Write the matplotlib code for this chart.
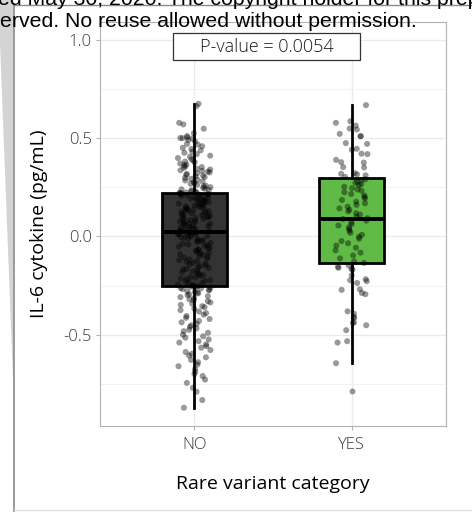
import matplotlib
matplotlib.use("Agg")
import matplotlib.pyplot as plt
from matplotlib.patches import Rectangle, Polygon
from matplotlib.lines import Line2D
import numpy as np

# ---------------- data ----------------
categories = ["NO", "YES"]
box_colors = ["#333333", "#5fbb46"]

# box statistics
q1 = [-0.254, -0.135]
median = [0.020, 0.086]
q3 = [0.218, 0.298]
whisker_low = [-0.871, -0.645]
whisker_high = [0.674, 0.667]
outliers_no = []
outliers_yes = [-0.787]

il6_no = [
    -0.871, -0.832, -0.79, -0.77, -0.745, -0.728, -0.71, -0.70, -0.688, -0.675,
    -0.66, -0.652, -0.64, -0.628, -0.615, -0.606, -0.597, -0.588, -0.578, -0.566,
    -0.558, -0.549, -0.54, -0.533, -0.524, -0.515, -0.508, -0.50, -0.49, -0.482,
    -0.475, -0.468, -0.46, -0.452, -0.445, -0.437, -0.43, -0.42, -0.414, -0.405,
    -0.398, -0.39, -0.382, -0.375, -0.368, -0.36, -0.355, -0.348, -0.342, -0.336,
    -0.33, -0.325, -0.32, -0.314, -0.309, -0.304, -0.299, -0.294, -0.29, -0.286,
    -0.282, -0.278, -0.274, -0.271, -0.268, -0.265, -0.262, -0.26, -0.258, -0.256,
    -0.254, -0.251, -0.247, -0.245, -0.238, -0.236, -0.231, -0.226, -0.223, -0.219,
    -0.214, -0.21, -0.207, -0.2, -0.197, -0.193, -0.186, -0.182, -0.179, -0.174,
    -0.168, -0.165, -0.161, -0.157, -0.151, -0.148, -0.142, -0.139, -0.135, -0.129,
    -0.125, -0.121, -0.117, -0.112, -0.108, -0.103, -0.099, -0.094, -0.091, -0.086,
    -0.082, -0.077, -0.073, -0.069, -0.066, -0.061, -0.057, -0.052, -0.049, -0.044,
    -0.041, -0.037, -0.033, -0.029, -0.025, -0.021, -0.018, -0.014, -0.011, -0.007,
    -0.004, -0.001, 0.002, 0.005, 0.008, 0.01, 0.012, 0.014, 0.016, 0.018,
    0.02, 0.022, 0.025, 0.027, 0.031, 0.034, 0.036, 0.039, 0.043, 0.046,
    0.048, 0.052, 0.055, 0.058, 0.061, 0.064, 0.066, 0.07, 0.073, 0.075,
    0.079, 0.082, 0.085, 0.088, 0.09, 0.094, 0.097, 0.099, 0.103, 0.106,
    0.108, 0.111, 0.114, 0.117, 0.12, 0.123, 0.126, 0.128, 0.131, 0.134,
    0.137, 0.14, 0.143, 0.146, 0.149, 0.152, 0.154, 0.157, 0.16, 0.163,
    0.166, 0.169, 0.172, 0.174, 0.177, 0.18, 0.183, 0.186, 0.189, 0.192,
    0.195, 0.198, 0.2, 0.203, 0.206, 0.209, 0.211, 0.213, 0.215, 0.217,
    0.218, 0.219, 0.221, 0.223, 0.225, 0.227, 0.23, 0.233, 0.236, 0.239,
    0.242, 0.246, 0.25, 0.254, 0.258, 0.262, 0.267, 0.271, 0.275, 0.279,
    0.284, 0.288, 0.292, 0.297, 0.301, 0.305, 0.309, 0.313, 0.317, 0.321,
    0.325, 0.329, 0.333, 0.336, 0.34, 0.344, 0.348, 0.352, 0.356, 0.361,
    0.365, 0.37, 0.376, 0.38, 0.385, 0.392, 0.398, 0.405, 0.41, 0.418,
    0.425, 0.43, 0.437, 0.444, 0.45, 0.458, 0.466, 0.47, 0.482, 0.49,
    0.497, 0.499, 0.5, 0.503, 0.51, 0.524, 0.547, 0.569, 0.577, 0.662,
    0.674,
]

# YES values inside the whiskers (the single outlier is drawn by the box plot)
il6_yes = [
    -0.645, -0.54, -0.533, -0.477, -0.452, -0.44, -0.438, -0.415, -0.41,
    -0.393, -0.381, -0.294, -0.288, -0.272, -0.269, -0.237, -0.228, -0.223, -0.218,
    -0.198, -0.17, -0.165, -0.16, -0.155, -0.148, -0.135,
    -0.128, -0.112, -0.097, -0.083, -0.071, -0.058, -0.047, -0.035, -0.024, -0.012,
    -0.002, 0.008, 0.018, 0.028, 0.037, 0.046, 0.055, 0.062, 0.071, 0.08,
    0.088, 0.092, 0.1, 0.11, 0.118, 0.127, 0.135, 0.142, 0.151, 0.16,
    0.168, 0.176, 0.185, 0.192, 0.2, 0.208, 0.215, 0.224, 0.232, 0.238,
    0.245, 0.252, 0.26, 0.265, 0.272, 0.278, 0.285, 0.29,
    0.302, 0.31, 0.315, 0.318, 0.321, 0.35, 0.352, 0.375, 0.377, 0.389,
    0.418, 0.42, 0.44, 0.445, 0.47, 0.474, 0.508, 0.51, 0.521, 0.543,
    0.548, 0.563, 0.577, 0.585, 0.667,
]

y_ticks = [-0.5, 0.0, 0.5, 1.0]
y_tick_labels = ["-0.5", "0.0", "0.5", "1.0"]
y_minor = [-0.75, -0.25, 0.25, 0.75]
y_label = "IL-6 cytokine (pg/mL)"
x_label = "Rare variant category"
p_label = "P-value = 0.0054"

# ---------------- figure ----------------
W, H = 472, 512
fig = plt.figure(figsize=(W / 100, H / 100), dpi=100)
fig.patch.set_facecolor("white")

ax = fig.add_axes([100 / W, 1 - 426 / H, 346 / W, 404 / H])

# boxes
stats = []
outl = [outliers_no, outliers_yes]
for i in range(2):
    stats.append(dict(med=median[i], q1=q1[i], q3=q3[i],
                      whislo=whisker_low[i], whishi=whisker_high[i],
                      fliers=outl[i]))
bp = ax.bxp(stats, positions=[1, 2], widths=0.41, patch_artist=True,
            showcaps=False, showfliers=True, manage_ticks=False,
            boxprops=dict(linewidth=2.0, edgecolor="black"),
            whiskerprops=dict(linewidth=2.0, color="black"),
            medianprops=dict(linewidth=2.8, color="black"),
            flierprops=dict(marker="o", markersize=4.3, markerfacecolor="#000000",
                            markeredgecolor="none", alpha=0.4))
for patch, c in zip(bp["boxes"], box_colors):
    patch.set_facecolor(c)
    patch.set_zorder(2)

# jittered points (deterministic hash-based horizontal jitter: layout only)
for k, (pos, vals) in enumerate(zip([1, 2], [il6_no, il6_yes])):
    vals = np.asarray(vals)
    idx = np.arange(len(vals), dtype=float)
    h = np.sin(idx * 12.9898 + (k + 1) * 78.233) * 43758.5453
    jit = (h - np.floor(h) - 0.5) * 0.21
    ax.scatter(pos + jit, vals, s=19, color="black", alpha=0.4,
               edgecolors="none", zorder=3)

ax.set_xlim(0.4, 2.6)
ax.set_ylim(-0.964, 1.0895)

# grid & ticks
ax.set_axisbelow(True)
ax.set_yticks(y_ticks, y_tick_labels)
ax.set_yticks(y_minor, minor=True)
ax.set_xticks([1, 2], categories)
ax.grid(True, which="major", color="#ebebeb", linewidth=1.0)
ax.grid(True, which="minor", axis="y", color="#f2f2f2", linewidth=0.7)
ax.tick_params(which="minor", length=0)

for sp in ax.spines.values():
    sp.set_color("#b3b3b3")
    sp.set_linewidth(0.8)
ax.tick_params(which="major", length=3, color="#b3b3b3", width=0.8,
               labelcolor="#3a3a3a", labelsize=12, pad=3)
ax.tick_params(axis="x", pad=5)
for lab in ax.get_xticklabels() + ax.get_yticklabels():
    lab.set_fontfamily("Open Sans")
    lab.set_fontweight("light")

ax.set_ylabel(y_label, fontsize=14, family="Open Sans", color="black", labelpad=11)
ax.set_xlabel(x_label, fontsize=14, family="Open Sans", color="black", labelpad=16)

# p-value box
ax.add_patch(Rectangle((0.211, 0.906), 0.54, 0.067, transform=ax.transAxes,
                       facecolor="white", edgecolor="#333333", linewidth=0.9, zorder=5))
ax.text(0.481, 0.939, p_label, transform=ax.transAxes, ha="center", va="center",
        fontsize=13, family="Open Sans", fontweight="light", color="#1a1a1a", zorder=6)

# ---------------- page decorations (cropped from paper) ----------------
def px(x, y):
    return (x / W, 1 - y / H)

wedge = Polygon([px(0, 0), px(13.5, 0), px(13.5, 392), px(0, 43)], closed=True,
                transform=fig.transFigure, facecolor="#d4d4d4", edgecolor="none",
                zorder=0)
fig.patches.append(wedge)
fig.add_artist(Line2D([13.5 / W, 13.5 / W], [1 - 4 / H, 0], transform=fig.transFigure,
                      color="#8a8a8a", linewidth=1.2))
fig.add_artist(Line2D([13.5 / W, 1], [1 - 4.5 / H, 1 - 4.5 / H], transform=fig.transFigure,
                      color="#8a8a8a", linewidth=1.0))
fig.add_artist(Line2D([13.5 / W, 1], [1 - 510 / H, 1 - 510 / H], transform=fig.transFigure,
                      color="#e0e0e0", linewidth=1.0))

fig.text(-2 / W, 1 - 5 / H, "ed May 30, 2020. The copyright holder for this preprint",
         family="Liberation Sans", fontsize=15.3, color="black", va="baseline", ha="left",
         zorder=10)
fig.text(-0.5 / W, 1 - 27 / H, "erved. No reuse allowed without permission.",
         family="Liberation Sans", fontsize=15.3, color="black", va="baseline", ha="left",
         zorder=10)

fig.savefig("out.png", dpi=100)
